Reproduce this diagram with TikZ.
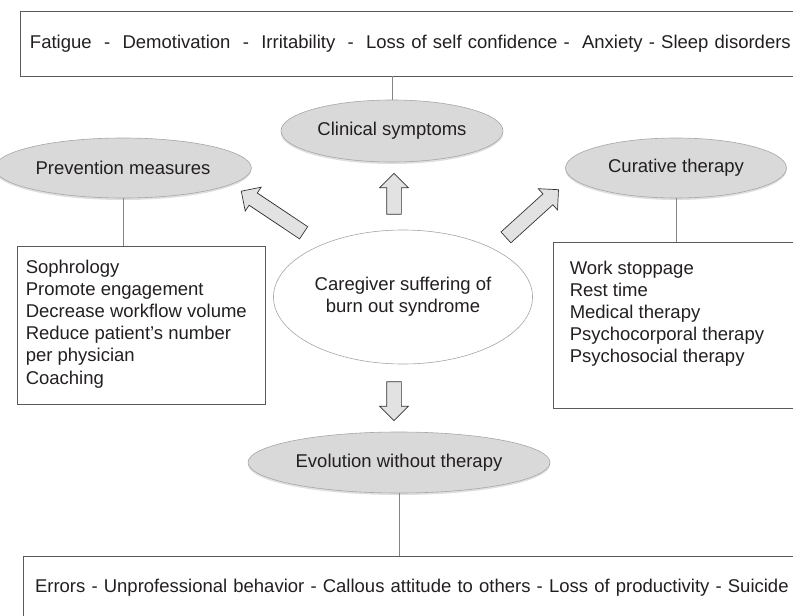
\documentclass[tikz,border=0pt]{standalone}
\usepackage{fontspec}
\setmainfont{Liberation Sans}
\usetikzlibrary{ shapes.geometric, % For the ellipses
                 shapes.arrows,    % For the block arrows
                 shadows,          % For the soft shadow under the ovals
                 positioning,      % For easy node-relative placements
               }

\definecolor{inkgray}{HTML}{231F20}
\definecolor{ovalgray}{HTML}{D9D9D9}
\definecolor{ovalline}{HTML}{A6A6A6}
\definecolor{boxline}{HTML}{5A5A5A}
\definecolor{linkgray}{HTML}{858585}
\definecolor{arrowgray}{HTML}{E2E2E2}

\begin{document}
\begin{tikzpicture}[x=1pt, y=-1pt,
  every node/.style={text=inkgray, font=\fontsize{18.5}{22.2}\selectfont},
  oval/.style={ellipse, draw=ovalline, fill=ovalgray, line width=0.6pt,
               drop shadow={opacity=0.25, shadow xshift=0pt, shadow yshift=-2pt}},
  box/.style={rectangle, draw=boxline, line width=0.9pt},
  link/.style={draw=linkgray, line width=0.7pt},
  bigarrow/.style={single arrow, draw=black!80, fill=arrowgray, line width=0.7pt,
                   inner xsep=0pt, inner ysep=7pt, minimum width=1pt,
                   single arrow head extend=7pt},
]
  \useasboundingbox (0,0) rectangle (793,616);
  \clip (0,0) rectangle (793,616);

  % the four headings round the centre
  \node[oval, minimum width=222pt, minimum height=62pt] (clinical) at (392,131) {Clinical symptoms};
  \node[oval, minimum width=221pt, minimum height=60pt] (prev) at (123,168) {Prevention measures};
  \node[oval, minimum width=221pt, minimum height=60pt] (cur) at (676,168) {Curative therapy};
  \node[oval, minimum width=302pt, minimum height=61pt] (evo) at (399,462.5) {Evolution without therapy};
  \node[ellipse, draw=ovalline, fill=white, line width=0.6pt, align=center,
        minimum width=220pt, minimum height=134pt] (caregiver) at (403,297)
        {Caregiver suffering of\\burn out syndrome};

  % the boxes
  \node[box, minimum height=65pt, text width=800pt, align=left,
        inner xsep=10pt] (symbox) at (430,43.5)
        {Fatigue\ \ -\ \ Demotivation\ \ -\ \ Irritability\ \ -\ \ Loss of self confidence -\ \ Anxiety - Sleep disorders};
  \node[box, minimum width=248pt, minimum height=158pt] (prevbox) at (141,325) {};
  \node[anchor=north west, align=left, inner sep=0pt] (prevlist)
        at ([xshift=9pt, yshift=-14pt]prevbox.north west)
        {Sophrology\\Promote engagement\\Decrease workflow volume\\Reduce patient’s number\\per physician\\Coaching};
  \node[box, minimum width=247pt, minimum height=166pt] (curbox) at (676.5,325) {};
  \node[anchor=north west, align=left, inner sep=0pt] (curlist)
        at ([xshift=17pt, yshift=-19pt]curbox.north west)
        {Work stoppage\\Rest time\\Medical therapy\\Psychocorporal therapy\\Psychosocial therapy};
  \node[box, minimum height=64pt, text width=800pt, align=left,
        inner xsep=12pt] (evobox) at (435,588)
        {Errors - Unprofessional behavior - Callous attitude to others - Loss of productivity - Suicide};

  % lines from the headings to their boxes
  \draw[link] (clinical.north) -- (clinical.north |- symbox.south);
  \draw[link] (prev.south) -- (prev.south |- prevbox.north);
  \draw[link] (cur.south) -- (cur.south |- curbox.north);
  \draw[link] (evo.south) -- (evo.south |- evobox.north);

  % block arrows out of the centre
  \node[bigarrow, minimum height=41pt, rotate=90] (uparr) at (394,197.5) {};
  \node[bigarrow, minimum height=39pt, rotate=-90] (downarr) at (394,397.5) {};
  \node[bigarrow, minimum height=75pt, rotate=146.3] (leftarr) at (275.5,214) {};
  \node[bigarrow, minimum height=71pt, rotate=42.2] (rightarr) at (529.5,216) {};
\end{tikzpicture}
\end{document}
